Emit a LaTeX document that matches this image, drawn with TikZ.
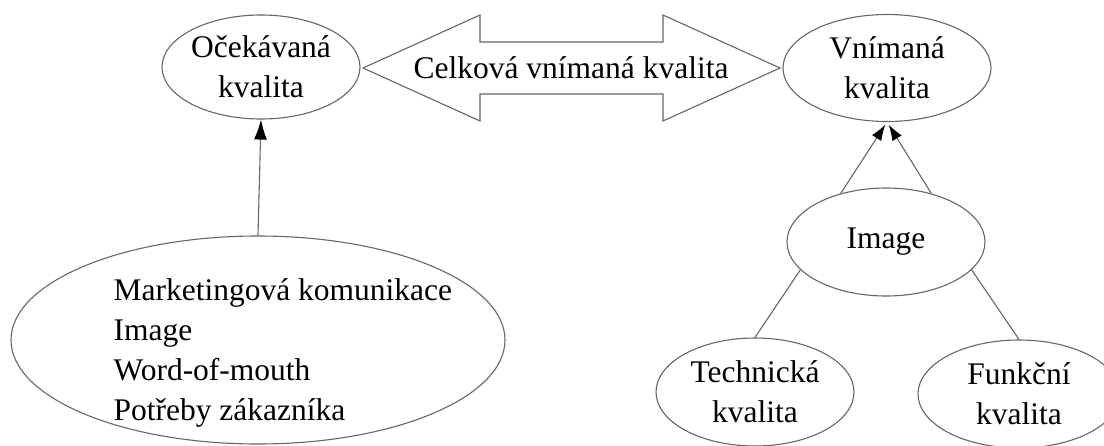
\documentclass[tikz,border=0pt]{standalone}
\usepackage{fontspec}
\setmainfont{Liberation Serif}
\usetikzlibrary{shapes.geometric,arrows.meta}
\begin{document}
\begin{tikzpicture}[x=1pt,y=-1pt,line width=1.1pt,
    font=\fontsize{31.5}{40}\selectfont,
    ell/.style={ellipse,draw=black!60,inner sep=0pt,align=center},
    line/.style={draw=black!60},
    arr/.style={draw=black!60,-{Latex[length=20pt,width=13pt,color=black]}}]
      \useasboundingbox (0,0) rectangle (1104,445);
      \node[ell,minimum width=198pt,minimum height=104pt] (oc) at (261,67) {Očekávaná\\kvalita};
      \node[ell,minimum width=208pt,minimum height=107pt] (vn) at (887,68) {Vnímaná\\kvalita};
      \node[ell,minimum width=198pt,minimum height=108pt] (img) at (886,242) {Image};
      \node[ell,minimum width=198pt,minimum height=108pt] (tech) at (755,392) {Technická\\kvalita};
      \node[ell,minimum width=202pt,minimum height=108pt] (fun) at (1019,394) {Funkční\\kvalita};
      \node[ell,minimum width=494pt,minimum height=208pt] (big) at (258,340) {};
      \node[anchor=west,align=left,inner sep=0pt] (bigtxt) at (113,353)
        {Marketingová komunikace\\Image\\Word-of-mouth\\Potřeby zákazníka};
      % double arrow between the two qualities
      \draw[line] (363,68) -- (480,15) -- (480,42) -- (663,42) -- (663,15) -- (780,68)
        -- (663,121) -- (663,94) -- (480,94) -- (480,121) -- cycle;
      \node[inner sep=0pt] (celk) at (571,68) {Celková vnímaná kvalita};
      \draw[arr] (big.north) -- (oc.south);
      \draw[arr,-{Latex[length=16pt,width=11pt,color=black]},shorten >=3pt] (img.133) -- (vn.south);
      \draw[arr,-{Latex[length=16pt,width=11pt,color=black]},shorten >=3pt] (img.47) -- (vn.south);
      \draw[line] (img.198) -- (tech.north);
      \draw[line] (img.342) -- (fun.north);
    \end{tikzpicture}
\end{document}
